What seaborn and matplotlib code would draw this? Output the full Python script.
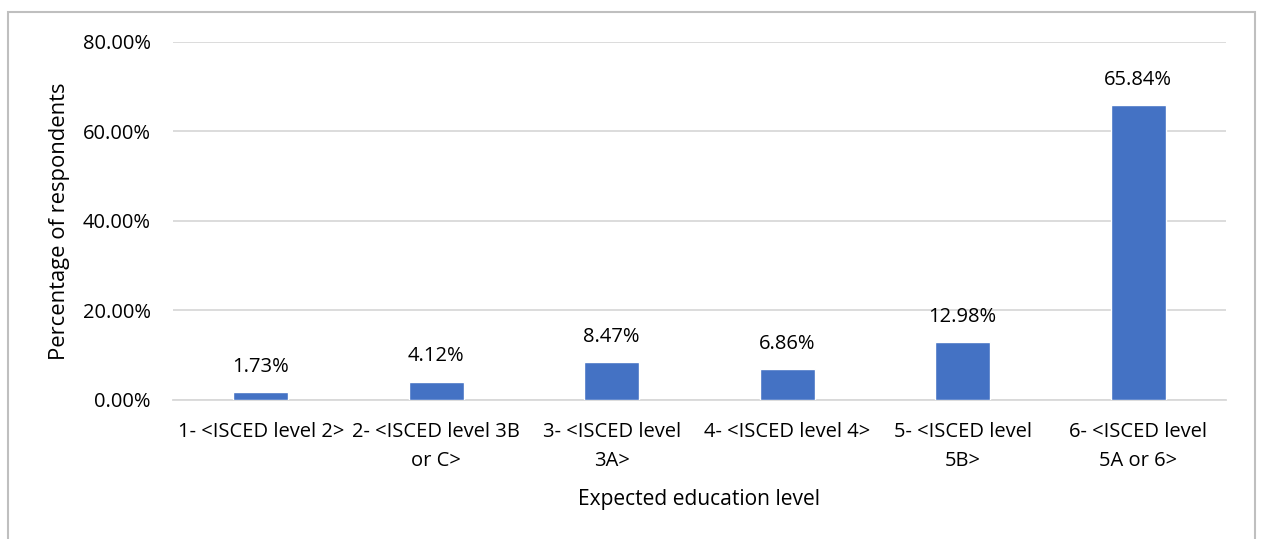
import matplotlib
matplotlib.use("Agg")
import matplotlib.pyplot as plt
import seaborn as sns
import pandas as pd
from matplotlib.patches import Rectangle
from matplotlib.ticker import FuncFormatter

categories = [
    "1- <ISCED level 2>",
    "2- <ISCED level 3B\nor C>",
    "3- <ISCED level\n3A>",
    "4- <ISCED level 4>",
    "5- <ISCED level\n5B>",
    "6- <ISCED level\n5A or 6>",
]
percentages = [1.73, 4.12, 8.47, 6.86, 12.98, 65.84]
y_ticks = [0, 20, 40, 60, 80]

sns.set_theme(style="white")
plt.rcParams["font.family"] = ["Open Sans", "DejaVu Sans"]

df = pd.DataFrame({"level": categories, "pct": percentages})

fig = plt.figure(figsize=(12.61, 5.39), dpi=100)
ax = fig.add_axes([0.1372, 0.2579, 0.8350, 0.6642])

sns.barplot(data=df, x="level", y="pct", color="#4472C4", width=0.315,
            saturation=1, ax=ax, zorder=3)

fs = 14.5
ax.set_ylim(0, 80)
ax.set_yticks(y_ticks)
ax.yaxis.set_major_formatter(FuncFormatter(lambda v, _: f"{v:.2f}%"))
ax.grid(axis="y", color="#d9d9d9", linewidth=1.3, zorder=0)
ax.grid(axis="x", visible=False)
for side in ["top", "right", "left"]:
    ax.spines[side].set_visible(False)
ax.spines["bottom"].set_color("#d9d9d9")
ax.spines["bottom"].set_linewidth(1.3)

ax.tick_params(axis="y", length=0, pad=16, labelsize=fs, labelcolor="#000000")
ax.tick_params(axis="x", length=0, pad=16, labelsize=fs, labelcolor="#000000")
for lbl in ax.get_xticklabels():
    lbl.set_linespacing(1.6)

ax.set_ylabel("Percentage of respondents", fontsize=15.8, color="#000000", labelpad=9)
ax.set_xlabel("Expected education level", fontsize=15.1, color="#000000", labelpad=13)

for container in ax.containers:
    ax.bar_label(container, labels=[f"{v:.2f}%" for v in percentages],
                 padding=11, fontsize=fs, color="#000000")

# chart-area frame
fig.patches.append(Rectangle((8 / 1261, -0.05), (1255 - 8) / 1261, 1.05 - 12 / 539,
                             transform=fig.transFigure, fill=False,
                             edgecolor="#bfbfbf", linewidth=1.5))

fig.savefig("out.png", dpi=100)
